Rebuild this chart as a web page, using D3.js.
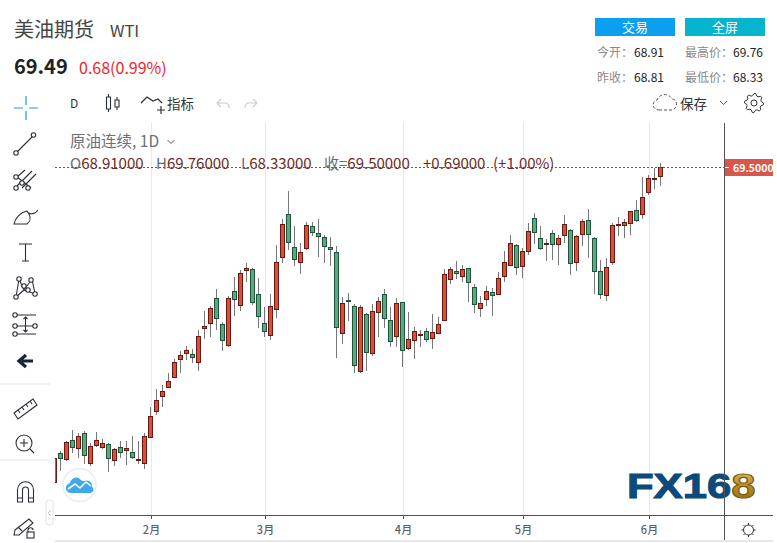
<!DOCTYPE html>
<html lang="zh">
<head>
<meta charset="UTF-8">
<title>美油期货 WTI</title>
<style>
  html, body { margin: 0; padding: 0; background: #fff; overflow: hidden; }
  svg { display: block; }
  text { font-family: "Noto Sans CJK SC", "Noto Sans", sans-serif; }
  .icon { fill: none; stroke: #2b2f36; stroke-width: 1.1; }
</style>
</head>
<body>
<script src="https://d3js.org/d3.v7.min.js"></script>
<script>
// daily bars, oldest first
var opens = [49.84,51.64,51.24,52.45,51.93,52.89,50.99,52.11,52.01,52.20,51.20,52.01,51.83,51.70,51.18,50.99,52.61,54.24,55.18,55.74,56.36,57.49,57.86,57.83,57.33,59.45,59.76,61.33,59.70,58.36,61.76,60.89,63.08,63.14,61.58,59.76,59.01,60.64,63.89,66.58,64.51,63.58,64.45,65.83,65.39,65.14,64.51,64.20,59.14,61.20,60.83,56.76,60.33,57.89,60.45,61.58,59.95,58.95,61.08,58.20,58.70,59.01,59.26,58.83,59.14,59.95,62.51,63.01,62.70,63.20,62.01,60.70,61.26,61.70,61.58,62.70,63.39,64.64,63.33,64.26,66.33,65.08,64.68,65.39,64.70,65.26,65.58,63.58,65.33,66.20,65.08,63.01,61.51,63.58,65.86,65.89,66.01,66.83,66.58,67.95,68.76,68.91];
var highs = [51.34,51.78,52.41,53.09,52.93,53.03,52.28,52.97,52.53,52.28,51.95,52.39,52.39,52.72,52.41,52.91,54.53,55.64,55.89,56.66,57.53,58.03,58.34,58.16,59.33,60.53,60.84,61.91,59.83,61.47,62.66,63.09,63.53,63.24,62.59,60.78,61.59,64.66,66.28,68.03,65.84,64.78,66.08,66.08,66.28,65.28,65.16,64.59,61.41,61.66,60.97,60.91,60.39,60.97,61.41,61.91,60.78,61.34,61.08,60.47,59.53,59.33,59.45,60.33,60.16,63.16,63.28,63.66,63.41,63.20,62.22,61.45,62.09,61.95,62.97,64.28,65.28,64.70,64.45,66.03,66.66,65.84,65.03,65.58,65.28,66.53,65.64,65.28,66.26,66.91,65.14,63.72,63.84,66.03,66.41,66.28,66.76,67.47,68.91,69.03,69.47,69.76];
var lows = [49.78,50.55,51.16,51.68,51.34,50.97,50.84,52.01,51.89,50.47,50.84,51.34,50.91,51.30,50.97,50.66,52.61,54.03,54.53,55.74,56.36,56.66,57.47,57.28,56.80,58.80,58.93,59.36,58.05,58.30,60.24,60.53,62.36,60.93,59.49,58.93,58.74,60.11,63.55,64.34,63.36,62.86,64.36,65.24,63.93,63.53,63.36,57.61,58.49,59.93,56.68,56.68,56.80,57.74,58.93,59.49,58.30,58.30,57.05,58.08,57.55,58.30,58.61,58.18,59.14,59.95,62.22,62.53,62.34,61.09,60.41,60.18,60.83,60.24,61.58,62.36,63.39,62.78,62.59,64.05,64.70,64.33,63.68,63.70,63.43,64.80,62.80,63.05,64.61,63.84,61.59,61.30,61.18,63.39,65.22,65.09,65.28,66.08,66.26,67.76,68.16,68.33];
var closes = [51.34,51.30,52.33,52.01,52.70,51.49,52.08,52.45,52.26,51.30,51.89,51.68,51.95,51.36,51.26,52.70,53.95,54.95,55.51,56.14,57.33,57.76,58.08,57.61,58.95,59.58,60.70,60.08,58.70,61.33,61.26,62.89,63.20,61.08,60.20,59.26,60.83,63.58,65.95,64.83,63.76,64.20,65.89,65.45,65.20,64.58,64.39,59.51,61.01,61.11,57.14,60.76,57.95,60.51,61.14,60.08,58.64,61.01,58.08,58.76,59.26,59.08,58.76,59.20,59.70,62.83,63.14,62.89,63.14,62.33,60.95,61.01,61.76,61.51,62.58,63.58,64.76,63.26,64.26,65.51,65.45,64.45,64.72,64.70,65.08,65.95,63.51,65.20,66.14,65.33,63.01,61.58,63.26,65.89,65.91,66.08,66.76,66.20,67.64,68.83,68.83,69.50];

var monthIndex = [16, 35, 58, 78, 99];
var monthLabels = ["2月", "3月", "4月", "5月", "6月"];
var lastPrice = 69.5;

var W = 777, H = 543;
var plotL = 55, plotT = 123, plotB = 515, axisX = 724;

var svg = d3.select("body").append("svg").attr("width", W).attr("height", H);

var x = d3.scaleLinear().domain([0, 101]).range([54.5, 660.5]);
var y = d3.scaleLinear().domain([50, 69.5]).range([479.5, 167.5]);

svg.append("defs").append("clipPath").attr("id", "plot")
  .append("rect").attr("x", plotL).attr("y", plotT).attr("width", axisX - plotL).attr("height", plotB - plotT);

var gold = svg.select("defs").append("linearGradient").attr("id", "gold")
  .attr("x1", 0).attr("x2", 0).attr("y1", 0).attr("y2", 1);
gold.append("stop").attr("offset", "0").attr("stop-color", "#e6c264");
gold.append("stop").attr("offset", "0.55").attr("stop-color", "#b98a22");
gold.append("stop").attr("offset", "1").attr("stop-color", "#8a6414");

// ---- header text
function label(t, px, py, size, color, weight) {
  return svg.append("text").attr("x", px).attr("y", py).attr("font-size", size)
    .attr("fill", color).attr("font-weight", weight || 400).text(t);
}
label("美油期货", 14, 37, 20, "#444");
label("WTI", 110, 37, 16.5, "#444");
label("69.49", 14, 74, 20, "#222", 700);
label("0.68(0.99%)", 79, 74, 16, "#f5222d");

svg.append("rect").attr("x", 595).attr("y", 18).attr("width", 80).attr("height", 18).attr("fill", "#0b9ff0");
svg.append("rect").attr("x", 685).attr("y", 18).attr("width", 80).attr("height", 18).attr("fill", "#07b4ce");
label("交易", 635, 32, 13, "#fff").attr("text-anchor", "middle");
label("全屏", 725, 32, 13, "#fff").attr("text-anchor", "middle");

label("今开：", 597, 57, 12, "#888");
label("68.91", 634, 57, 12, "#222");
label("最高价：", 685, 57, 12, "#888");
label("69.76", 733, 57, 12, "#222");
label("昨收：", 597, 81.5, 12, "#888");
label("68.81", 634, 81.5, 12, "#222");
label("最低价：", 685, 81.5, 12, "#888");
label("68.33", 733, 81.5, 12, "#222");

// ---- plot frame and month grid
var plot = svg.append("g");
plot.selectAll("line.grid").data(monthIndex).enter().append("line")
  .attr("class", "grid")
  .attr("x1", function(d) { return x(d) + 1; }).attr("x2", function(d) { return x(d) + 1; })
  .attr("y1", plotT).attr("y2", plotB).attr("stroke", "#e4ebf0");

// ---- candles
var bars = d3.range(opens.length);
var candles = plot.append("g").attr("clip-path", "url(#plot)").attr("shape-rendering", "crispEdges");
candles.selectAll("line").data(bars).enter().append("line")
  .attr("x1", function(i) { return x(i); }).attr("x2", function(i) { return x(i); })
  .attr("y1", function(i) { return y(highs[i]); }).attr("y2", function(i) { return y(lows[i]); })
  .attr("stroke", "#777");
candles.selectAll("rect").data(bars).enter().append("rect")
  .attr("x", function(i) { return x(i) - 2; })
  .attr("width", 4)
  .attr("y", function(i) { return y(Math.max(opens[i], closes[i])); })
  .attr("height", function(i) { return Math.abs(y(opens[i]) - y(closes[i])); })
  .attr("fill", function(i) { return closes[i] >= opens[i] ? "#d8503c" : "#62a681"; })
  .attr("stroke", function(i) { return closes[i] >= opens[i] ? "#6b1712" : "#195538"; });

// ---- logo, sits under the axis lines
var logo = svg.append("text").attr("transform", "translate(627,498) scale(1.245,1)")
  .attr("font-size", 35).attr("font-weight", 700).style("font-family", "'Liberation Sans'")
  .attr("stroke-width", 1.1);
logo.append("tspan").attr("fill", "#0b4a7c").attr("stroke", "#0b4a7c").text("FX16");
logo.append("tspan").attr("fill", "url(#gold)").attr("stroke", "#7a5a14").text("8");

// ---- legend
label("原油连续, 1D", 70, 147, 15.5, "#6a6f78");
svg.append("path").attr("d", "M167.5 140l3.5 3.5 3.5-3.5").attr("fill", "none").attr("stroke", "#555");
var ohlc = [["O", "68.91000", 70], ["H", "69.76000", 156], ["L", "68.33000", 241], ["收=", "69.50000", 324], ["", "+0.69000", 423], ["", "(+1.00%)", 493]];
ohlc.forEach(function(d) {
  var t = svg.append("text").attr("x", d[2]).attr("y", 169).attr("font-size", 15);
  t.append("tspan").attr("fill", "#666a72").text(d[0]);
  t.append("tspan").attr("fill", "#6e2a24").text(d[1]);
});

// last price line and tag
svg.append("line").attr("x1", plotL).attr("x2", axisX).attr("y1", y(lastPrice)).attr("y2", y(lastPrice))
  .attr("stroke", "#b5392c").attr("stroke-dasharray", "2 2");
svg.append("rect").attr("x", axisX).attr("y", 159).attr("width", 49).attr("height", 17).attr("fill", "#d9564a");
svg.append("line").attr("x1", axisX).attr("x2", axisX + 5).attr("y1", y(lastPrice)).attr("y2", y(lastPrice)).attr("stroke", "#fff");
label("69.5000", 733, 172, 10.5, "#fff", 700);

// axes
svg.append("line").attr("x1", plotL).attr("x2", 773).attr("y1", plotB + 0.5).attr("y2", plotB + 0.5).attr("stroke", "#50535e");
svg.append("line").attr("x1", axisX + 0.5).attr("x2", axisX + 0.5).attr("y1", plotT).attr("y2", 541).attr("stroke", "#50535e");
svg.append("line").attr("x1", plotL).attr("x2", 773).attr("y1", 541).attr("y2", 541).attr("stroke", "#e8e8ec").attr("stroke-width", 2);
svg.selectAll("line.tick").data(monthIndex).enter().append("line").attr("class", "tick")
  .attr("x1", function(d) { return x(d) + 1; }).attr("x2", function(d) { return x(d) + 1; })
  .attr("y1", plotB).attr("y2", plotB + 4).attr("stroke", "#50535e");
svg.selectAll("text.month").data(monthIndex).enter().append("text").attr("class", "month")
  .attr("x", function(d) { return x(d) + 1; }).attr("y", 534).attr("text-anchor", "middle")
  .attr("font-size", 11).attr("font-weight", 500).attr("fill", "#5a5e66")
  .text(function(d, i) { return monthLabels[i]; });

// ---- floating cloud badge
svg.append("circle").attr("cx", 79.5).attr("cy", 485).attr("r", 16.5).attr("fill", "#fff").attr("stroke", "#ececec").attr("stroke-width", 1.5);
svg.append("path").attr("d", "M70 493c-5-1-6-8 0-10 1-5 7-8 11-3 1 1 2 1 3 1 5-2 9 2 8 6 3 2 1 6-2 6z").attr("fill", "#3fa9f0");
svg.append("path").attr("d", "M68 489l7-5 5 4 6-6 5 4").attr("fill", "none").attr("stroke", "#fff").attr("stroke-width", 1.6);
svg.append("rect").attr("x", 46).attr("y", 500).attr("width", 7).attr("height", 25).attr("rx", 3).attr("fill", "#fff").attr("stroke", "#e2e2e2");
svg.append("path").attr("d", "M50.5 510l-2 3 2 3").attr("fill", "none").attr("stroke", "#a9c0d0");

// ---- top toolbar
svg.append("path").attr("d", "M14 108h9M29 108h9M26 96v9M26 111v9").attr("fill", "none").attr("stroke", "#2196f3").attr("stroke-width", 1.2);
label("D", 70, 108, 12, "#333");
var ic = svg.append("g").attr("class", "icon");
ic.append("path").attr("d", "M106.5 97h4v12h-4zM108.500 94v3M108.500 109v3M115 100h4v7h-4zM117 97v3M117 107v3");
ic.append("path").attr("d", "M141 103l6-6 6 4 5-2 4 4M157 110h8M161 106v8").attr("stroke-width", 1.2);
label("指标", 167, 109, 13.5, "#333");
svg.append("path").attr("d", "M217 103l4-4M217 103l4 4M217 103h8c3 0 4 3 4 5M257 103l-4-4M257 103l-4 4M257 103h-8c-3 0-4 3-4 5")
  .attr("fill", "none").attr("stroke", "#c8ccd2").attr("stroke-width", 1.1);
svg.append("path").attr("d", "M660 110c-8 0-9-8-3-10 2-6 11-8 15-1 5 0 7 9 0 11z").attr("fill", "none").attr("stroke", "#555").attr("stroke-dasharray", "3 2");
label("保存", 680, 109, 13.5, "#333");
svg.append("path").attr("d", "M720 101l3.500 3.500 3.500-3.500").attr("fill", "none").attr("stroke", "#555");
function gear(cx, cy, r, teeth) {
  var g = svg.append("g").attr("transform", "translate(" + cx + "," + cy + ")");
  var pts = d3.range(teeth * 4).map(function(k) {
    var a = k / (teeth * 4) * 2 * Math.PI, rr = (k % 4 < 2) ? r : r * 0.78;
    return [Math.cos(a) * rr, Math.sin(a) * rr];
  });
  g.append("path").attr("d", d3.line().curve(d3.curveLinearClosed)(pts)).attr("fill", "none").attr("stroke", "#333");
  g.append("circle").attr("r", r * 0.32).attr("fill", "none").attr("stroke", "#333");
}
gear(754, 103, 9.5, 8);

// bottom right sun
svg.append("circle").attr("cx", 748.5).attr("cy", 530).attr("r", 5).attr("fill", "none").attr("stroke", "#333");
svg.append("path").attr("d", "M748.500 523v2M748.500 535v2M741.500 530h2M753.500 530h2M743.500 525l1.500 1.500M753.500 525l-1.500 1.500M743.500 535l1.500-1.500M753.500 535l-1.500-1.500")
  .attr("stroke", "#333").attr("fill", "none");

// ---- left drawing tools
function dot(g, px, py) { g.append("circle").attr("cx", px).attr("cy", py).attr("r", 2.2).attr("fill", "#fff"); }
var t1 = svg.append("g").attr("class", "icon");
t1.append("path").attr("d", "M17 152L33 136");
dot(t1, 16, 153); dot(t1, 33.500, 135);
var t2 = svg.append("g").attr("class", "icon");
t2.append("path").attr("d", "M17 177l8-7M16 187L32 171M22 188l14-14M16 176l15 12");
dot(t2, 16, 177); dot(t2, 16, 188); dot(t2, 28, 188); dot(t2, 22, 183);
var t3 = svg.append("g").attr("class", "icon");
t3.append("path").attr("d", "M14 224h13c3-2 4-6 2-10l-2-3c-6 1-12 7-13 13zM29 213c3 2 7 0 9-3");
var t4 = svg.append("g").attr("class", "icon");
t4.append("path").attr("d", "M19 244h13M25.500 244v17M22 261h7");
var t5 = svg.append("g").attr("class", "icon");
t5.append("path").attr("d", "M16 297l3-18 5 11zM19 279l5 11 8-11 3 15-11-4");
[[16, 297], [19, 279], [24, 286], [31, 280], [35, 294], [28, 290]].forEach(function(p) { dot(t5, p[0], p[1]); });
var t6 = svg.append("g").attr("class", "icon");
t6.append("path").attr("d", "M15 315h21M15 326h20M15 334h21M25.500 317v15M23.500 319l2-2 2 2M23.500 330l2 2 2-2");
dot(t6, 15, 315); dot(t6, 15, 326); dot(t6, 15, 334); dot(t6, 35, 326);
svg.append("path").attr("d", "M33 361H22M26 355l-7 6 7 6").attr("fill", "none").attr("stroke", "#14233a").attr("stroke-width", 3.2);
svg.append("line").attr("x1", 0).attr("x2", 50).attr("y1", 384).attr("y2", 384).attr("stroke", "#e0e3e8");
var t7 = svg.append("g").attr("class", "icon");
t7.append("path").attr("d", "M14 413l19-14 4 6-19 14zM18 410l2 3M22 407l2 3M26 404l2 3M30 401l2 3");
var t8 = svg.append("g").attr("class", "icon");
t8.append("circle").attr("cx", 24).attr("cy", 443).attr("r", 8);
t8.append("path").attr("d", "M20 443h8M24 439v8M30 449l4 4");
svg.append("line").attr("x1", 0).attr("x2", 50).attr("y1", 460).attr("y2", 460).attr("stroke", "#e0e3e8");
var t9 = svg.append("g").attr("class", "icon");
t9.append("path").attr("d", "M17.500 502v-12c0-11 16-11 16 0v12h-5v-12c0-4-6-4-6 0v12zM17.500 498h5M28.500 498h5");
var t10 = svg.append("g").attr("class", "icon");
t10.append("path").attr("d", "M15 530l14-11 4 4-14 12-5 0zM18 527l4 4");
t10.append("rect").attr("x", 27).attr("y", 532).attr("width", 7).attr("height", 6);
t10.append("path").attr("d", "M28 532v-2c0-3 5-3 5 0");
</script>
</body>
</html>
